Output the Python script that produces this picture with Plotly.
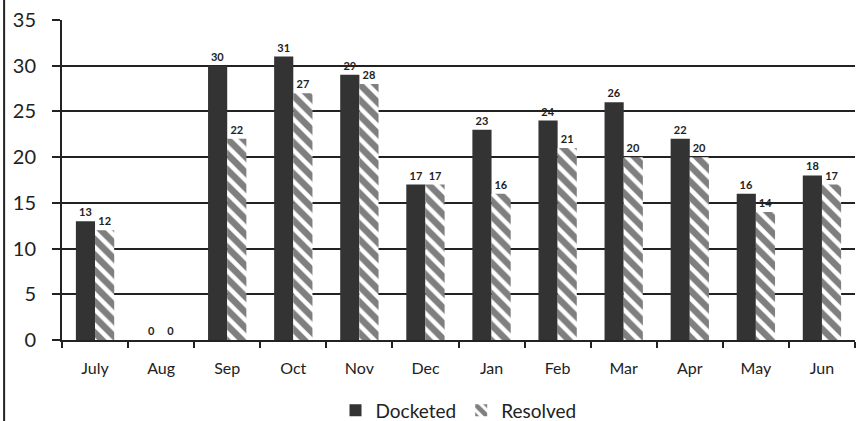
import plotly.graph_objects as go

months = ["July", "Aug", "Sep", "Oct", "Nov", "Dec", "Jan", "Feb", "Mar", "Apr", "May", "Jun"]
docketed = [13, 0, 30, 31, 29, 17, 23, 24, 26, 22, 16, 18]
resolved = [12, 0, 22, 27, 28, 17, 16, 21, 20, 20, 14, 17]
y_ticks = [0, 5, 10, 15, 20, 25, 30, 35]

FONT = "Lato, Carlito, sans-serif"

fig = go.Figure()
fig.add_trace(go.Bar(
    x=months, y=docketed, name="Docketed",
    marker=dict(color="#333333", line=dict(width=0)),
    text=docketed, textposition="outside", cliponaxis=False,
    textfont=dict(family=FONT, size=11, color="#222222", weight="bold"),
))
fig.add_trace(go.Bar(
    x=months, y=resolved, name="Resolved",
    marker=dict(color="white", line=dict(width=0),
                pattern=dict(shape="\\", fgcolor="#000000", bgcolor="white",
                             size=11, solidity=0.6, fillmode="overlay")),
    text=resolved, textposition="outside", cliponaxis=False,
    textfont=dict(family=FONT, size=11, color="#222222", weight="bold"),
))

fig.update_layout(
    width=863, height=421,
    margin=dict(l=62, r=8, t=20, b=81, autoexpand=False),
    paper_bgcolor="white", plot_bgcolor="white",
    barmode="group", bargap=0.42, bargroupgap=0.0,
    font=dict(family=FONT, color="#222222"),
    showlegend=True,
    legend=dict(orientation="h", x=0.5, xanchor="center", y=-0.22, yanchor="middle",
                font=dict(size=19, family=FONT, color="#222222"),
                itemwidth=30, traceorder="normal"),
)
fig.update_xaxes(
    automargin=False,
    showgrid=False, showline=True, linecolor="#222222", linewidth=2,
    ticks="outside", tickson="boundaries", ticklen=6, tickcolor="#222222", tickwidth=2,
    ticklabelstandoff=13,
    tickfont=dict(size=16, family=FONT, color="#222222"),
)
fig.update_yaxes(
    automargin=False,
    range=[0, 35], tickvals=y_ticks, showgrid=True, gridcolor="#222222", gridwidth=2,
    showline=True, linecolor="#222222", linewidth=2, zeroline=False,
    ticks="outside", ticklen=8, tickcolor="#222222", tickwidth=2,
    ticklabelstandoff=12,
    tickfont=dict(size=20, family=FONT, color="#222222"),
)
fig.add_shape(type="line", xref="paper", yref="paper",
              x0=-0.073, x1=-0.073, y0=-0.26, y1=1.07,
              line=dict(color="#222222", width=2))

fig.write_html("out.html", config={"displayModeBar": False})

with open("out.html", encoding="utf-8") as f:
    html = f.read()
html = html.replace("<body>", '<body style="margin:0;overflow:hidden">', 1)
with open("out.html", "w", encoding="utf-8") as f:
    f.write(html)
